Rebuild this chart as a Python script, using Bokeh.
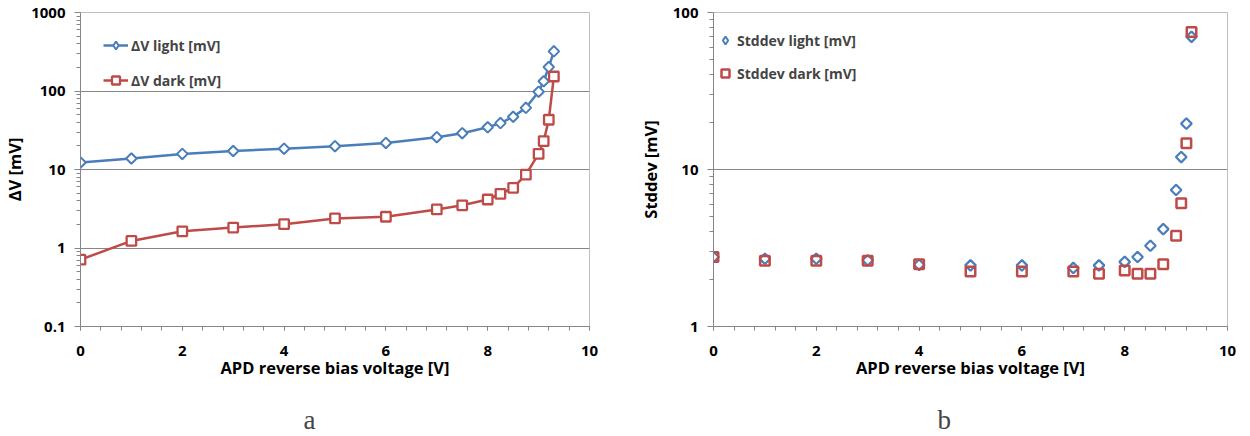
import numpy as np
from bokeh.plotting import figure
from bokeh.models import (FixedTicker, Legend, LegendItem, CustomJSTickFormatter, Range1d,
                          Title, LinearAxis)
from bokeh.layouts import row
from bokeh.embed import file_html
from bokeh.resources import INLINE

# ---- data ----
voltage = [0, 1, 2, 3, 4, 5, 6, 7, 7.5, 8, 8.25, 8.5, 8.75, 9, 9.1, 9.2, 9.3]
dv_light = [12.3, 13.8, 15.8, 17.2, 18.4, 19.8, 21.8, 25.8, 29, 34.5, 39, 47, 61, 98, 133, 202, 320]
dv_dark = [0.71, 1.23, 1.63, 1.82, 2.01, 2.38, 2.5, 3.1, 3.5, 4.15, 4.9, 5.85, 8.6, 15.8, 23, 43, 153]
std_light = [2.77, 2.7, 2.7, 2.64, 2.47, 2.45, 2.45, 2.36, 2.45, 2.58, 2.77, 3.27, 4.17, 7.4, 12.0, 19.6, 70]
std_dark = [2.77, 2.62, 2.62, 2.62, 2.49, 2.24, 2.24, 2.24, 2.17, 2.27, 2.17, 2.17, 2.49, 3.78, 6.1, 14.7, 75]

x_major = [0, 2, 4, 6, 8, 10]
ya_major = [0.1, 1, 10, 100, 1000]
yb_major = [1, 10, 100]

labels_a = ["\u0394V light [mV]", "\u0394V dark [mV]"]
labels_b = ["Stddev light [mV]", "Stddev dark [mV]"]
x_title = "APD reverse bias voltage [V]"
panel_names = ["a", "b"]

BLUE = "#4a7ebb"
RED = "#be4b48"
FONT = "Open Sans"
TICK_FS = "15px"
TITLE_FS = "16.5px"
LEGEND_FS = "14px"


def minor_log(lo_exp, hi_exp):
    return [m * 10.0 ** e for e in range(lo_exp, hi_exp) for m in range(2, 10)]


def style(p, ymajor, yminor, ylabel, label_standoff):
    p.xaxis.ticker = FixedTicker(ticks=x_major, minor_ticks=[i * 0.4 for i in range(26)])
    p.yaxis.ticker = FixedTicker(ticks=ymajor, minor_ticks=yminor)
    p.yaxis.formatter = CustomJSTickFormatter(code="return String(tick)")
    p.xaxis.axis_label = x_title
    p.yaxis.axis_label = ylabel
    for ax in (p.xaxis[0], p.yaxis[0]):
        ax.axis_line_color = "#868686"
        ax.major_tick_line_color = "#868686"
        ax.minor_tick_line_color = "#868686"
        ax.major_tick_in = 0
        ax.minor_tick_in = 0
        ax.major_label_text_font = FONT
        ax.major_label_text_font_style = "bold"
        ax.major_label_text_font_size = TICK_FS
        ax.major_label_text_color = "black"
        ax.axis_label_text_font = FONT
        ax.axis_label_text_font_style = "bold"
        ax.axis_label_text_font_size = TITLE_FS
        ax.axis_label_text_color = "black"
    p.xaxis.major_tick_out = 4
    p.xaxis.minor_tick_out = 4
    p.xaxis.major_label_standoff = 15
    p.xaxis.axis_label_standoff = -3
    p.yaxis.major_tick_out = 6
    p.yaxis.minor_tick_out = 4
    p.yaxis.major_label_standoff = 9
    p.yaxis.axis_label_standoff = label_standoff
    p.xgrid.visible = False
    p.ygrid.grid_line_color = "#868686"
    p.ygrid.grid_line_width = 1
    p.outline_line_color = "#bfbfbf"
    p.outline_line_width = 1
    p.background_fill_color = "white"
    p.border_fill_color = "white"


def panel_title(p, name, offset):
    # invisible spacer axis (one white tick, blank label) pushes the panel letter down
    spacer = LinearAxis(ticker=FixedTicker(ticks=x_major[:1]), major_tick_out=21,
                        major_tick_in=0, axis_line_color=None, major_tick_line_color="white",
                        minor_tick_line_color=None, minor_tick_out=0,
                        major_label_standoff=0, major_label_overrides={x_major[0]: ""})
    p.add_layout(spacer, "below")
    p.add_layout(Title(text=name, text_font="Liberation Serif", text_font_size="27px",
                       text_font_style="normal", align="left", offset=offset,
                       standoff=0), "below")


# ---------------- panel a ----------------
pa = figure(width=625, height=436, y_axis_type="log",
            x_range=Range1d(0, 10), y_range=Range1d(0.1, 1000),
            output_backend="svg", toolbar_location=None,
            min_border_left=78, min_border_right=36, min_border_top=12, min_border_bottom=110)
style(pa, ya_major, minor_log(-1, 3), "\u0394V [mV]", 2)

la_line = pa.line(voltage, dv_light, line_color=BLUE, line_width=2.5)
la_pts = pa.scatter(voltage, dv_light, marker="square", angle=np.pi / 4, size=7.5,
                    line_color=BLUE, line_width=2, fill_color="white")
da_line = pa.line(voltage, dv_dark, line_color=RED, line_width=2.5)
da_pts = pa.scatter(voltage, dv_dark, marker="square", size=9.5,
                    line_color=RED, line_width=2.3, fill_color="white")
# legend-only diamond key (zero size on the plot; legends draw unrotated markers)
la_key = pa.scatter(voltage, dv_light, marker="diamond", size=0, line_color=BLUE,
                    line_width=2, fill_color="white")

leg_a = Legend(items=[LegendItem(label=labels_a[0], renderers=[la_line, la_key]),
                      LegendItem(label=labels_a[1], renderers=[da_line, da_pts])],
               location="top_left", orientation="vertical",
               glyph_width=25, glyph_height=20, label_height=20, spacing=15,
               padding=0, margin=23, label_standoff=3,
               label_text_font=FONT, label_text_font_style="bold", label_text_font_size=LEGEND_FS,
               background_fill_alpha=0, border_line_alpha=0)
pa.add_layout(leg_a, "center")
panel_title(pa, panel_names[0], 223)

# ---------------- panel b ----------------
pb = figure(width=625, height=436, y_axis_type="log",
            x_range=Range1d(0, 10), y_range=Range1d(1, 100),
            output_backend="svg", toolbar_location=None,
            min_border_left=88, min_border_right=23, min_border_top=12, min_border_bottom=109)
style(pb, yb_major, minor_log(0, 2), "Stddev [mV]", 8)

lb_pts = pb.scatter(voltage, std_light, marker="square", angle=np.pi / 4, size=7.5,
                    line_color=BLUE, line_width=2.2, fill_alpha=0)
db_pts = pb.scatter(voltage, std_dark, marker="square", size=9.5,
                    line_color=RED, line_width=2.5, fill_alpha=0)
lb_key = pb.scatter(voltage, std_light, marker="diamond", size=0, line_color=BLUE,
                    line_width=2, fill_alpha=0)

leg_b = Legend(items=[LegendItem(label=labels_b[0], renderers=[lb_key]),
                      LegendItem(label=labels_b[1], renderers=[db_pts])],
               location=(2, 315 - 19 - 53), orientation="vertical",
               glyph_width=20, glyph_height=20, label_height=20, spacing=13,
               padding=0, margin=0, label_standoff=2,
               label_text_font=FONT, label_text_font_style="bold", label_text_font_size=LEGEND_FS,
               background_fill_alpha=0, border_line_alpha=0)
pb.add_layout(leg_b, "center")
panel_title(pb, panel_names[1], 224)

layout = row(pa, pb)
open("out.html", "w").write(file_html(layout, INLINE))
